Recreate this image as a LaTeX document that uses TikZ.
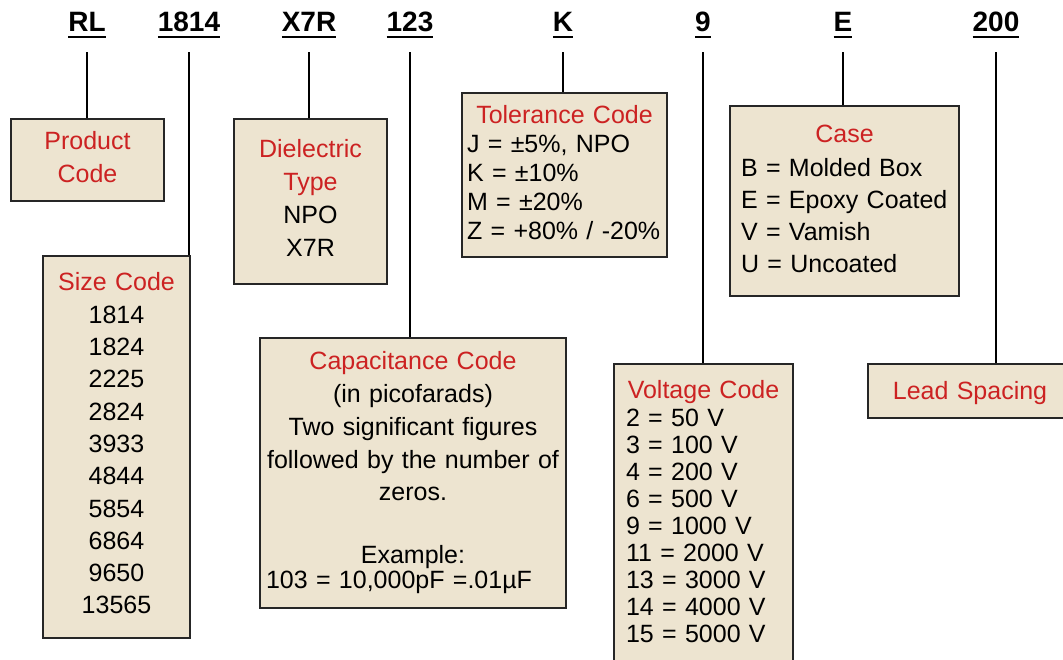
\documentclass[tikz,border=0pt]{standalone}
\usepackage{fontspec}
\setmainfont{Liberation Sans}
\usepackage{xcolor}
\usetikzlibrary{calc}
\definecolor{boxfill}{RGB}{237,228,208}
\definecolor{codered}{RGB}{204,34,34}
\newcommand{\hdul}[1]{\setbox0\hbox{#1}\rlap{\rule[-6.5pt]{\wd0}{2.5pt}}\box0}
\newcommand{\rd}[1]{\textcolor{codered}{#1}}

\begin{document}
\begin{tikzpicture}[x=1pt, y=-1pt]
	\tikzstyle{hd} = [anchor=base, font=\fontsize{28}{30}\selectfont\bfseries, inner xsep=0pt, inner ysep=13.5pt]
	\tikzstyle{bx} = [draw=black!85, line width=2pt, fill=boxfill, anchor=north west, inner ysep=0pt, inner xsep=4pt]
\tikzstyle{line} = [line width=2pt]
	\useasboundingbox (0,0) rectangle (1063,660);
	\node(hrl)[hd] at (87,32) {\hdul{RL}};
	\node(hsize)[hd] at (189,32) {\hdul{1814}};
	\node(hdiel)[hd] at (309,32) {\hdul{X7R}};
	\node(hcap)[hd] at (410,32) {\hdul{123}};
	\node(htol)[hd] at (563,32) {\hdul{K}};
	\node(hvolt)[hd] at (703,32) {\hdul{9}};
	\node(hcase)[hd] at (843,32) {\hdul{E}};
	\node(hlead)[hd] at (996,32) {\hdul{200}};
	\node(prod)[bx, text width=145pt, align=center, text height=31pt, text depth=51pt,
		font=\fontsize{25}{33}\selectfont] at (10,118) {\rd{Product}\\\rd{Code}};
	\node(size)[bx, text width=139pt, align=center, text height=35pt, text depth=347pt,
		font=\fontsize{25}{32.3}\selectfont] at (42,255)
		{\rd{Size Code}\\1814\\1824\\2225\\2824\\3933\\4844\\5854\\6864\\9650\\13565};
	\node(diel)[bx, text width=145pt, align=center, text height=39pt, text depth=126pt,
		font=\fontsize{25}{33}\selectfont] at (233,118) {\rd{Dielectric}\\\rd{Type}\\NPO\\X7R};
	\node(cap)[bx, text width=298pt, align=center, text height=32pt, text depth=238pt,
		font=\fontsize{25}{32.7}\selectfont] at (259,337)
		{\rd{Capacitance Code}\\(in picofarads)\\Two significant figures\\followed by the number of\\zeros.\\[30pt]Example:\\[-8pt]\hspace*{-28pt}103 = 10,000pF =.01µF};
	\node(tol)[bx, inner xsep=5pt, text width=195pt, align=left, text height=31pt, text depth=133pt,
		font=\fontsize{25}{29}\selectfont] at (461,92)
		{\makebox[\hsize]{\rd{Tolerance Code}}\\J = ±5\%, NPO\\K = ±10\%\\M = ±20\%\\Z = +80\% / -20\%};
	\node(case)[bx, inner xsep=11pt, text width=207pt, align=left, text height=37pt, text depth=153pt,
		font=\fontsize{25}{32}\selectfont] at (729,105)
		{\makebox[\hsize]{\rd{Case}}\\[2pt]B = Molded Box\\E = Epoxy Coated\\V = Vamish\\U = Uncoated};
	\node(volt)[bx, inner xsep=12pt, text width=155pt, align=left, text height=34pt, text depth=303pt,
		font=\fontsize{25}{26.9}\selectfont] at (613,363)
		{\makebox[\hsize]{\rd{Voltage Code}}\\[2pt]2 = 50 V\\3 = 100 V\\4 = 200 V\\6 = 500 V\\9 = 1000 V\\11 = 2000 V\\13 = 3000 V\\14 = 4000 V\\15 = 5000 V};
	\node(lead)[bx, text width=196pt, align=center, text height=35pt, text depth=19pt,
		font=\fontsize{25}{30}\selectfont] at (867,363) {\rd{Lead Spacing}};
	\draw[line](hrl.south) -- (hrl.south |- prod.north);
	\draw[line](hsize.south) -- (hsize.south |- size.north);
	\draw[line](hdiel.south) -- (hdiel.south |- diel.north);
	\draw[line](hcap.south) -- (hcap.south |- cap.north);
	\draw[line](htol.south) -- (htol.south |- tol.north);
	\draw[line](hvolt.south) -- (hvolt.south |- volt.north);
	\draw[line](hcase.south) -- (hcase.south |- case.north);
	\draw[line](hlead.south) -- (hlead.south |- lead.north);
  \end{tikzpicture}
\end{document}
